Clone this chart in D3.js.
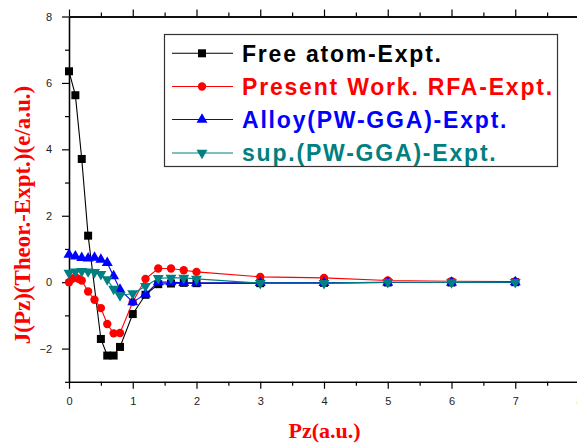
<!DOCTYPE html>
<html>
<head>
<meta charset="utf-8">
<script src="https://cdn.jsdelivr.net/npm/d3@7"></script>
<style>
  body { margin: 0; background: #fff; overflow: hidden; }
  svg { display: block; }
</style>
</head>
<body>
<svg id="chart" width="577" height="445"></svg>
<script>
// data
let freeX = [0, 0.1, 0.2, 0.3, 0.5, 0.6, 0.7, 0.8, 1.0, 1.2, 1.4, 1.6, 1.8, 2.0, 3, 4, 5, 6, 7];
let freeY = [6.35, 5.63, 3.71, 1.4, -1.71, -2.21, -2.21, -1.95, -0.96, -0.38, -0.06, -0.04, -0.02, -0.03, -0.03, -0.02, -0.01, -0.01, 0];

let rfaX = [0, 0.05, 0.1, 0.15, 0.2, 0.3, 0.4, 0.5, 0.6, 0.7, 0.8, 1.0, 1.2, 1.4, 1.6, 1.8, 2.0, 3, 4, 5, 6, 7];
let rfaY = [0.0, 0.1, 0.15, 0.1, 0.05, -0.28, -0.53, -0.78, -1.26, -1.54, -1.53, -0.6, 0.1, 0.41, 0.41, 0.36, 0.31, 0.16, 0.13, 0.05, 0.03, 0.02];

let alloyX = [0, 0.1, 0.2, 0.3, 0.4, 0.5, 0.6, 0.7, 0.8, 1.0, 1.2, 1.4, 1.6, 1.8, 2.0, 3, 4, 5, 6, 7];
let alloyY = [0.83, 0.78, 0.73, 0.72, 0.74, 0.68, 0.58, 0.18, -0.22, -0.6, -0.36, 0.0, 0.0, -0.02, -0.03, -0.02, -0.02, -0.01, -0.01, 0];

let supX = [0, 0.1, 0.2, 0.3, 0.4, 0.5, 0.6, 0.7, 0.8, 1.0, 1.2, 1.4, 1.6, 1.8, 2.0, 3, 4, 5, 6, 7];
let supY = [0.28, 0.32, 0.33, 0.32, 0.3, 0.24, 0.08, -0.2, -0.4, -0.34, -0.12, 0.12, 0.13, 0.13, 0.1, -0.03, -0.03, 0.0, -0.01, 0];

let seriesNames = ["Free atom-Expt.", "Present Work. RFA-Expt.", "Alloy(PW-GGA)-Expt.", "sup.(PW-GGA)-Expt."];
let seriesColors = ["#000000", "#ff0000", "#0000ff", "#008080"];

let xMajor = [0, 1, 2, 3, 4, 5, 6, 7, 8];
let yMajor = [-2, 0, 2, 4, 6, 8];

let svg = d3.select("#chart");

let x = d3.scaleLinear().domain([0, 8]).range([69, 579]);
let y = d3.scaleLinear().domain([-3, 8]).range([381.8, 16.5]);

let xMinor = d3.range(0.5, 8, 1);
let yMinor = d3.range(-3, 8, 2);

function styleAxis(g) {
    g.selectAll("path.domain").attr("stroke", "#000").attr("stroke-width", 1.3);
    g.selectAll(".tick line").attr("stroke", "#000").attr("stroke-width", 1.2);
    g.selectAll(".tick text")
        .attr("fill", "#222")
        .style("font-family", "Arial, 'Liberation Sans', sans-serif")
        .style("font-size", "11px");
}

// bottom axis
svg.append("g").attr("transform", `translate(0, ${y(-3)})`)
    .call(d3.axisBottom(x).tickValues(xMajor).tickFormat(d3.format("d")).tickSize(7).tickSizeOuter(0).tickPadding(8))
    .call(styleAxis);
svg.append("g").attr("transform", `translate(0, ${y(-3)})`)
    .call(d3.axisBottom(x).tickValues(xMinor).tickFormat("").tickSize(4).tickSizeOuter(0))
    .call(styleAxis);

// top axis
svg.append("g").attr("transform", `translate(0, ${y(8)})`)
    .call(d3.axisTop(x).tickValues(xMajor).tickFormat("").tickSize(7).tickSizeOuter(0))
    .call(styleAxis);
svg.append("g").attr("transform", `translate(0, ${y(8)})`)
    .call(d3.axisTop(x).tickValues(xMinor).tickFormat("").tickSize(4).tickSizeOuter(0))
    .call(styleAxis);

// left axis
svg.append("g").attr("transform", `translate(${x(0)}, 0)`)
    .call(d3.axisLeft(y).tickValues(yMajor).tickFormat(d3.format("d")).tickSize(7).tickSizeOuter(0).tickPadding(10))
    .call(styleAxis);
svg.append("g").attr("transform", `translate(${x(0)}, 0)`)
    .call(d3.axisLeft(y).tickValues(yMinor).tickFormat("").tickSize(4).tickSizeOuter(0))
    .call(styleAxis);

// right axis (mostly off screen)
svg.append("g").attr("transform", `translate(${x(8)}, 0)`)
    .call(d3.axisRight(y).tickValues(yMajor).tickFormat("").tickSize(7).tickSizeOuter(0))
    .call(styleAxis);

// axis titles
svg.append("text")
    .attr("transform", "translate(30, 215) rotate(-90)")
    .attr("text-anchor", "middle")
    .attr("fill", "#ff0000")
    .style("font-family", "'Liberation Serif', 'Times New Roman', serif")
    .style("font-weight", "bold")
    .style("font-size", "23px")
    .text("J(Pz)(Theor.-Expt.)(e/a.u.)");

svg.append("text")
    .attr("x", 324.5)
    .attr("y", 438)
    .attr("text-anchor", "middle")
    .attr("fill", "#ff0000")
    .style("font-family", "'Liberation Serif', 'Times New Roman', serif")
    .style("font-weight", "bold")
    .style("font-size", "22px")
    .text("Pz(a.u.)");

let symbols = [
    d3.symbol().type(d3.symbolSquare).size(64),
    d3.symbol().type(d3.symbolCircle).size(55),
    d3.symbol().type(d3.symbolTriangle).size(52),
    d3.symbol().type(d3.symbolTriangle).size(52)
];
let rotations = [0, 0, 0, 180];

let allSeries = [
    freeX.map((d, i) => [d, freeY[i]]),
    rfaX.map((d, i) => [d, rfaY[i]]),
    alloyX.map((d, i) => [d, alloyY[i]]),
    supX.map((d, i) => [d, supY[i]])
];

let line = d3.line().x(d => x(d[0])).y(d => y(d[1]));

allSeries.forEach((pts, k) => {
    let g = svg.append("g");
    g.append("path")
        .attr("d", line(pts))
        .attr("fill", "none")
        .attr("stroke", seriesColors[k])
        .attr("stroke-width", 1.1);
    g.selectAll("path.mark")
        .data(pts)
        .join("path")
        .attr("class", "mark")
        .attr("d", symbols[k])
        .attr("fill", seriesColors[k])
        .attr("transform", d => `translate(${x(d[0])}, ${y(d[1])}) rotate(${rotations[k]})`);
});

// legend
let legend = svg.append("g");
legend.append("rect")
    .attr("x", 164.5).attr("y", 34.5)
    .attr("width", 393).attr("height", 132)
    .attr("fill", "#fff")
    .attr("stroke", "#333")
    .attr("stroke-width", 1.2);

let rowY = [53.3, 86.5, 119.5, 153];
seriesNames.forEach((name, k) => {
    let row = legend.append("g").attr("transform", `translate(0, ${rowY[k]})`);
    row.append("line")
        .attr("x1", 172).attr("x2", 233)
        .attr("stroke", seriesColors[k])
        .attr("stroke-width", 1.1);
    row.append("path")
        .attr("d", symbols[k])
        .attr("fill", seriesColors[k])
        .attr("transform", `translate(202, 0) rotate(${rotations[k]})`);
    row.append("text")
        .attr("x", 242)
        .attr("y", 8.4)
        .attr("fill", seriesColors[k])
        .style("font-family", "Arial, 'Liberation Sans', sans-serif")
        .style("font-weight", "bold")
        .style("font-size", "23px")
        .style("letter-spacing", "1.8px")
        .text(name);
});
</script>
</body>
</html>
